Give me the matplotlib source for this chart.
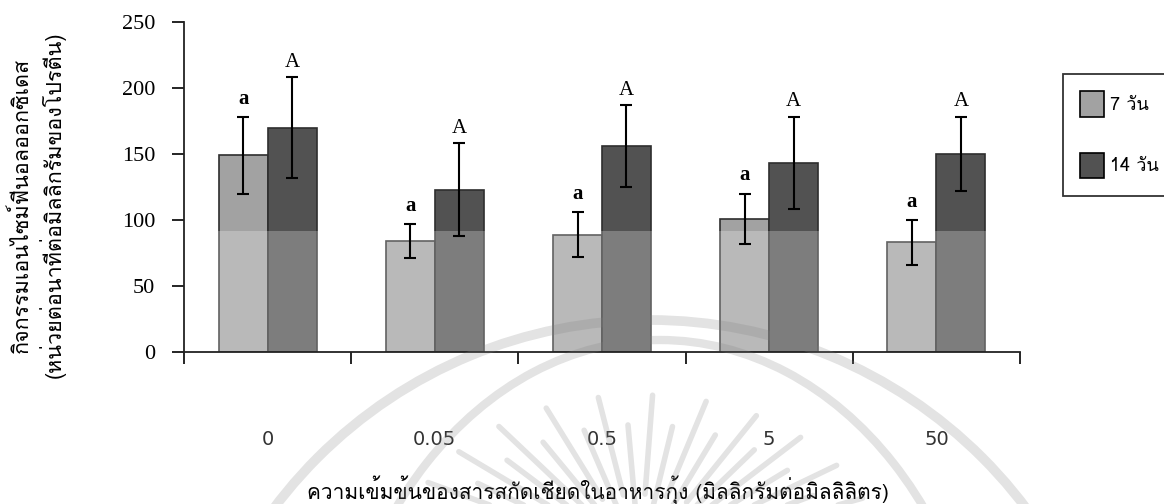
import numpy as np
import matplotlib
matplotlib.use("Agg")
import matplotlib.pyplot as plt
from matplotlib import font_manager
from matplotlib.patches import Arc, Patch

# ---- data -------------------------------------------------------------
categories = ['0', '0.05', '0.5', '5', '50']
day7 = [149, 84, 89, 101, 83]
day7_err = [29, 13, 17, 19, 17]
day14 = [170, 123, 156, 143, 150]
day14_err = [38, 35, 31, 35, 28]
letters7 = ['a', 'a', 'a', 'a', 'a']
letters14 = ['A', 'A', 'A', 'A', 'A']
series_labels = ['7 วัน', '14 วัน']
yticks = [0, 50, 100, 150, 200, 250]

xlabel = 'ความเข้มข้นของสารสกัดเชียดในอาหารกุ้ง (มิลลิกรัมต่อมิลลิลิตร)'
ylabel_1 = 'กิจกรรมเอนไซม์ฟีนอลออกซิเดส'
ylabel_2 = '(หน่วยต่อนาทีต่อมิลลิกรัมของโปรตีน)'


def find_thai_family():
    """Return the name of an installed font that covers the Thai block."""
    try:
        from fontTools.ttLib import TTFont
    except Exception:
        return None
    for fe in font_manager.fontManager.ttflist:
        try:
            tt = TTFont(fe.fname, fontNumber=0, lazy=True)
            cmap = tt.getBestCmap() or {}
            if 0x0E01 in cmap and 0x0E27 in cmap and 0x0E31 in cmap:
                return fe.name
        except Exception:
            continue
    return None


installed = {f.name for f in font_manager.fontManager.ttflist}
thai = find_thai_family()
thai_fam = ([thai] if thai else []) + ['DejaVu Sans']
narrow = 'Liberation Sans Narrow' if 'Liberation Sans Narrow' in installed else 'DejaVu Sans'
serif = 'Liberation Serif' if 'Liberation Serif' in installed else 'DejaVu Serif'

W, H = 1164, 504
fig = plt.figure(figsize=(W / 100, H / 100), dpi=100)
ax = fig.add_axes([184 / W, 1 - 352 / H, (1020 - 184) / W, (352 - 22) / H])

c7, c14 = '#a2a2a2', '#525252'
edge = '#2e2e2e'
x = np.arange(len(categories))
bw = 0.293

ax.bar(x - bw / 2, day7, bw, color=c7, edgecolor=edge, linewidth=1.2, zorder=2)
ax.bar(x + bw / 2, day14, bw, color=c14, edgecolor=edge, linewidth=1.2, zorder=2)

# lighter lower band across the bars
ax.axhspan(0, 92, color='white', alpha=0.25, lw=0, zorder=2.5)

ekw = dict(fmt='none', ecolor='black', elinewidth=1.5, capsize=4.6, capthick=1.5, zorder=4)
ax.errorbar(x - bw / 2, day7, yerr=day7_err, **ekw)
ax.errorbar(x + bw / 2, day14, yerr=day14_err, **ekw)

for xi, v, e, t in zip(x - bw / 2, day7, day7_err, letters7):
    ax.annotate(t, (xi, v + e), xytext=(0, 6), textcoords='offset points',
                ha='center', va='bottom', fontsize=15, fontweight='bold',
                family=serif, zorder=5)
for xi, v, e, t in zip(x + bw / 2, day14, day14_err, letters14):
    ax.annotate(t, (xi, v + e), xytext=(0, 4), textcoords='offset points',
                ha='center', va='bottom', fontsize=15, family=serif, zorder=5)

ax.set_xlim(-0.5, len(categories) - 0.5)
ax.set_ylim(0, 250)
ax.set_yticks(yticks)
ax.set_yticklabels([str(v) for v in yticks], family=serif, fontsize=16)
ax.tick_params(axis='y', direction='out', length=8.6, width=1.2, pad=12, colors='black')

ax.set_xticks(x)
ax.set_xticklabels(categories, family=narrow, fontsize=14, color='#333333')
ax.tick_params(axis='x', which='major', length=0, pad=56)
ax.set_xticks(np.arange(len(categories) + 1) - 0.5, minor=True)
ax.tick_params(axis='x', which='minor', direction='out', length=8.6, width=1.2)

for s in ('top', 'right'):
    ax.spines[s].set_visible(False)
for s in ('left', 'bottom'):
    ax.spines[s].set_linewidth(1.3)
    ax.spines[s].set_color('#222222')

fig.text(598 / W, 1 - 490 / H, xlabel, ha='center', va='center',
         fontsize=15, family=thai_fam)
fig.text(22 / W, 1 - 205 / H, ylabel_1, ha='center', va='center',
         rotation=90, fontsize=15.5, family=thai_fam)
fig.text(52 / W, 1 - 205 / H, ylabel_2, ha='center', va='center',
         rotation=90, fontsize=15.5, family=thai_fam)

handles = [Patch(facecolor=c7, edgecolor='black', linewidth=1.2),
           Patch(facecolor=c14, edgecolor='black', linewidth=1.2)]
leg = fig.legend(handles, series_labels, loc='upper left',
                 bbox_to_anchor=(1063 / W, 1 - 74 / H),
                 prop=font_manager.FontProperties(family=thai_fam, size=13),
                 frameon=True, fancybox=False, shadow=False,
                 handlelength=1.3, handleheight=1.8, handletextpad=0.35,
                 labelspacing=2.0, borderpad=0.95, borderaxespad=0)
leg.get_frame().set_edgecolor('black')
leg.get_frame().set_linewidth(1.3)

# faint seal printed over the page
ov = fig.add_axes([0, 0, 1, 1], zorder=10)
ov.set_xlim(0, W)
ov.set_ylim(H, 0)
ov.axis('off')
ov.patch.set_alpha(0)
wm = dict(color='#808080', alpha=0.22)
ov.add_patch(Arc((650, 790), 940, 940, theta1=0, theta2=360, lw=7, **wm))
ov.add_patch(Arc((660, 760), 660, 840, theta1=0, theta2=360, lw=6, **wm))
for k, ang in enumerate(np.arange(22, 160, 6.5)):
    th = np.deg2rad(ang)
    frac = 1.0 if k % 2 == 0 else 0.82
    a, b = 240 * frac, 165 * frac
    x0, y0 = 640 + 0.4 * a * np.cos(th), 560 - 0.4 * b * np.sin(th)
    x1, y1 = 640 + a * np.cos(th), 560 - b * np.sin(th)
    ov.plot([x0, x1], [y0, y1], lw=4, solid_capstyle='round', **wm)

fig.savefig('out.png', dpi=100)
